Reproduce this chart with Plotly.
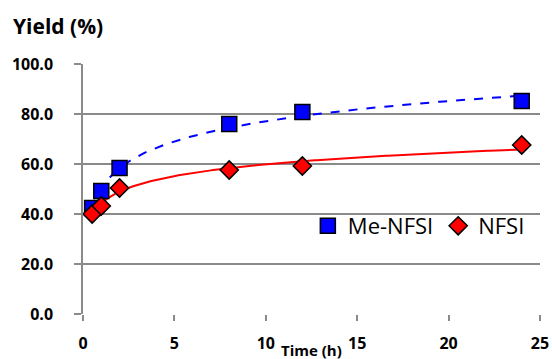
import numpy as np
import plotly.graph_objects as go

# Data
time_h = [0.5, 1, 2, 8, 12, 24]
me_nfsi = [42.4, 49.2, 58.4, 76.0, 80.8, 85.2]
nfsi = [40.0, 43.2, 50.4, 57.6, 59.2, 67.6]
x_ticks = [0, 5, 10, 15, 20, 25]
y_ticks = [0, 20, 40, 60, 80, 100]
y_tick_labels = ["0.0", "20.0", "40.0", "60.0", "80.0", "100.0"]

FONT = "Open Sans"

def log_fit(t, y):
    slope, intercept = np.polyfit(np.log(t), y, 1)
    tt = np.linspace(min(t), max(t), 200)
    return tt, intercept + slope * np.log(tt)

fig = go.Figure()

tt, fy = log_fit(time_h, me_nfsi)
fig.add_trace(go.Scatter(x=tt, y=fy, mode="lines", showlegend=False,
                         line=dict(color="#0000FF", width=2, dash="dash"), hoverinfo="skip"))
tt2, fy2 = log_fit(time_h, nfsi)
fig.add_trace(go.Scatter(x=tt2, y=fy2, mode="lines", showlegend=False,
                         line=dict(color="#FF0000", width=2), hoverinfo="skip"))

fig.add_trace(go.Scatter(x=time_h, y=me_nfsi, mode="markers", name="Me-NFSI",
                         marker=dict(symbol="square", size=15, color="#0000FF",
                                     line=dict(color="black", width=1.5))))
fig.add_trace(go.Scatter(x=time_h, y=nfsi, mode="markers", name="NFSI",
                         marker=dict(symbol="diamond", size=14, color="#FF0000",
                                     line=dict(color="black", width=1.5))))

grid = "#8a8a8a"
fig.update_layout(
    width=552, height=359,
    margin=dict(l=83, r=12, t=64, b=45, autoexpand=False),
    paper_bgcolor="white", plot_bgcolor="white",
    font=dict(family=FONT, color="black"),
    showlegend=True,
    legend=dict(orientation="h", x=0.492, y=0.352, xanchor="left", yanchor="middle",
                font=dict(size=22, family=FONT), bgcolor="rgba(0,0,0,0)",
                itemclick=False, tracegroupgap=0),
    xaxis=dict(range=[0, 25], tickvals=x_ticks, showgrid=False, zeroline=False,
               showline=False, ticks="outside", ticklen=6, tickcolor=grid, tickwidth=1.5,
               ticklabelstandoff=9,
               tickfont=dict(size=16, family=FONT, weight="bold")),
    yaxis=dict(range=[0, 100], tickvals=y_ticks, ticktext=y_tick_labels,
               showgrid=True, gridcolor=grid, gridwidth=1.5, zeroline=False,
               showline=True, linecolor=grid, linewidth=1.5,
               ticks="outside", ticklen=7, tickcolor=grid, tickwidth=1.5,
               ticklabelstandoff=18,
               tickfont=dict(size=16, family=FONT, weight="bold")),
    annotations=[
        dict(text="<b>Yield (%)</b>", xref="paper", yref="paper", x=-0.158, y=1.152,
             xanchor="left", yanchor="middle", showarrow=False, font=dict(size=21, family=FONT)),
        dict(text="<b>Time (h)</b>", xref="paper", yref="paper", x=0.5, y=-0.143,
             xanchor="center", yanchor="middle", showarrow=False, font=dict(size=15, family=FONT)),
    ],
)

fig.write_html("out.html", config={"displayModeBar": False},
               post_script="document.body.style.margin='0';document.body.style.overflow='hidden';")
